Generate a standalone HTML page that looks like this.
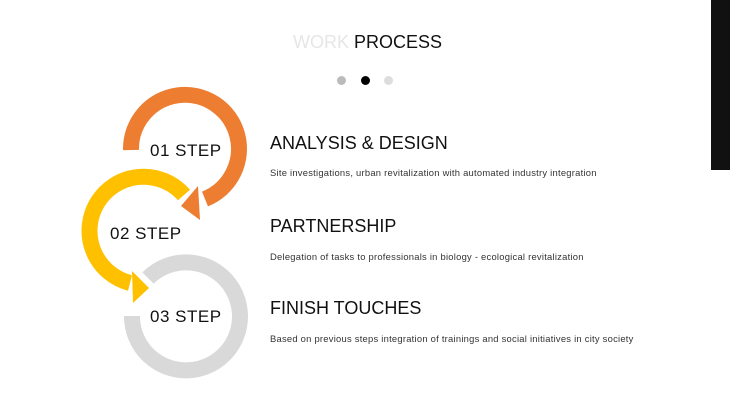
<!DOCTYPE html>
<html><head><style>
body{margin:0;width:730px;height:411px;background:#fff;overflow:hidden;position:relative;font-family:"Liberation Sans",sans-serif;}
.t{position:absolute;color:#111;white-space:nowrap}
.d{font-size:9.4px;color:#333;letter-spacing:0.25px}
.h{font-size:18px;letter-spacing:0px}
.s{font-size:17px;letter-spacing:0.5px}
</style></head><body>
<div style="position:absolute;left:711px;top:0;width:19px;height:170px;background:#111"></div>
<div class="t" style="left:293px;top:32px;font-size:18px;"><span style="color:#e6e6e6">WORK</span> PROCESS</div>
<div style="position:absolute;left:337px;top:76px;width:9px;height:9px;border-radius:50%;background:#bbb"></div>
<div style="position:absolute;left:361px;top:76px;width:9px;height:9px;border-radius:50%;background:#000"></div>
<div style="position:absolute;left:384px;top:76px;width:9px;height:9px;border-radius:50%;background:#ddd"></div>
<svg width="730" height="411" style="position:absolute;left:0;top:0">
<path d="M132 316 A54 54 0 1 0 148 278" fill="none" stroke="#d9d9d9" stroke-width="16"/>
<path d="M131 150 A54 54 0 1 1 205 199" fill="none" stroke="#ed7d31" stroke-width="16"/>
<polygon points="198,186 200,220 181,206" fill="#ed7d31"/>
<path d="M184 195 A54 54 0 1 0 130 283" fill="none" stroke="#ffc000" stroke-width="16"/>
<polygon points="132,271 133,303 149,288" fill="#ffc000"/>
</svg>
<div class="t s" style="left:150px;top:141px;">01 STEP</div>
<div class="t s" style="left:110px;top:224px;">02 STEP</div>
<div class="t s" style="left:150px;top:307px;">03 STEP</div>
<div class="t h" style="left:270px;top:133px;">ANALYSIS &amp; DESIGN</div>
<div class="t d" style="left:270px;top:167px;">Site investigations, urban revitalization with automated industry integration</div>
<div class="t h" style="left:270px;top:216px;">PARTNERSHIP</div>
<div class="t d" style="left:270px;top:251px;">Delegation of tasks to professionals in biology - ecological revitalization</div>
<div class="t h" style="left:270px;top:298px;">FINISH TOUCHES</div>
<div class="t d" style="left:270px;top:333px;">Based on previous steps integration of trainings and social initiatives in city society</div>
</body></html>
